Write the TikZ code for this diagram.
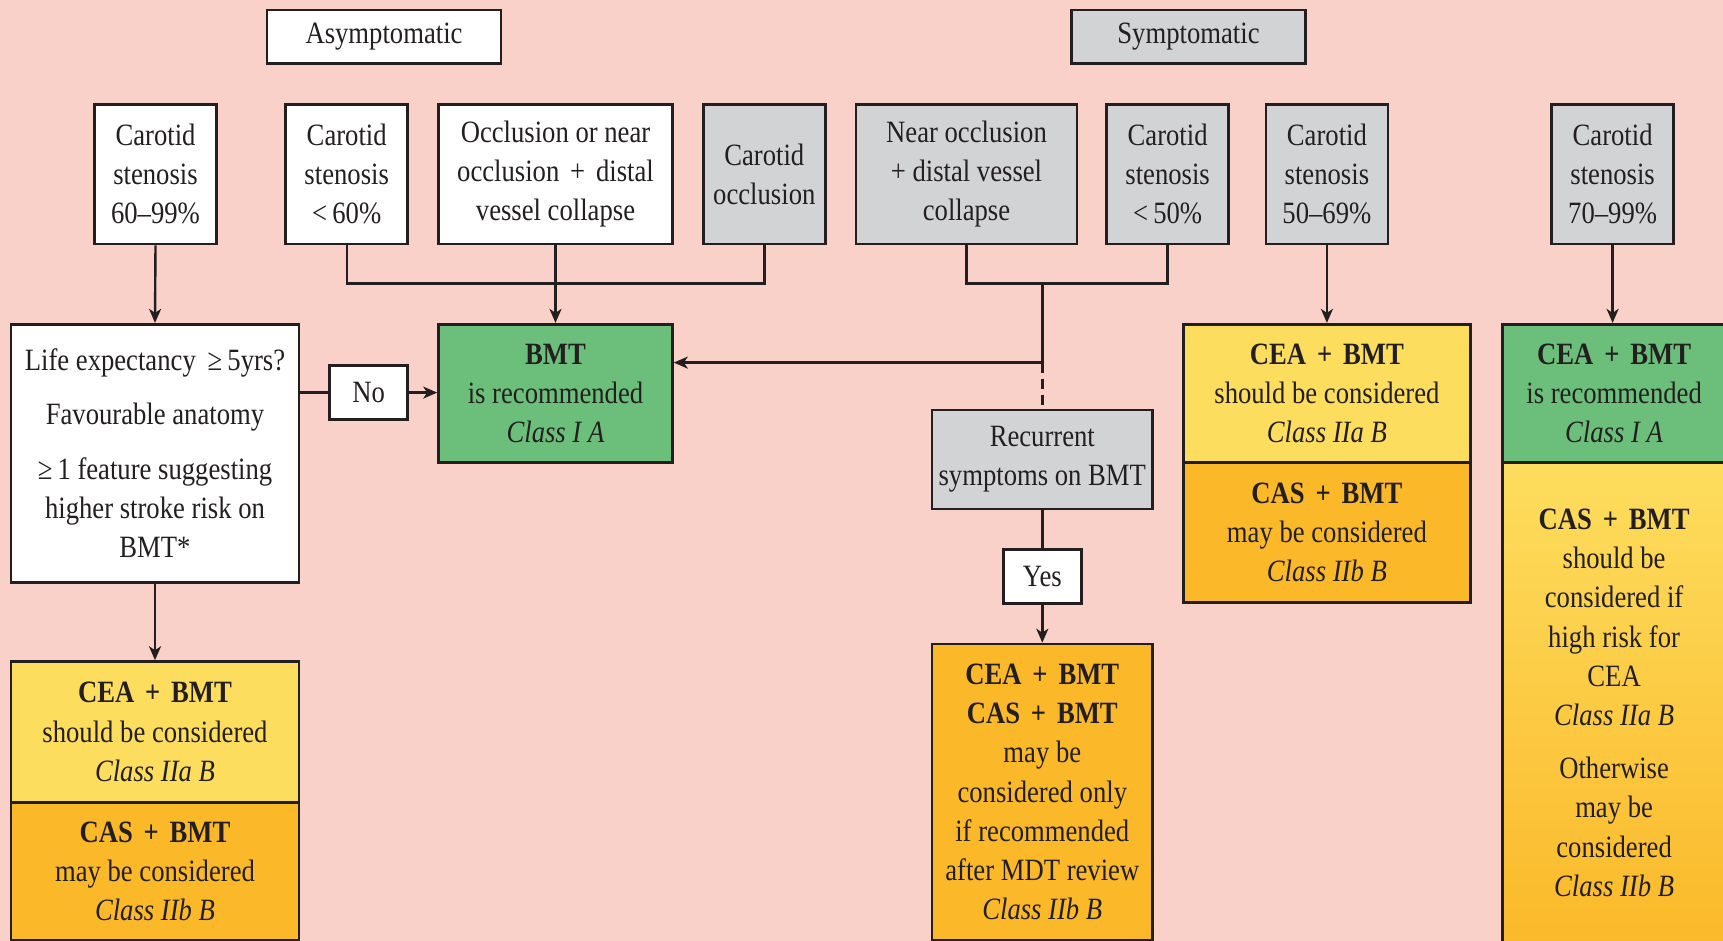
\documentclass[tikz,border=0pt]{standalone}
\usepackage{fontspec}
\setmainfont[FakeStretch=0.86]{Liberation Serif}
\usetikzlibrary{arrows.meta}
\definecolor{bgc}{RGB}{250,209,201}
\definecolor{greenc}{RGB}{108,191,122}
\definecolor{yellowc}{RGB}{253,221,94}
\definecolor{orangec}{RGB}{251,185,42}
\definecolor{grayc}{RGB}{210,211,213}
\definecolor{linec}{RGB}{35,31,32}
\newcommand{\pl}{\hspace{0.35em}+\hspace{0.35em}}
\begin{document}
\begin{tikzpicture}[x=0.5pt,y=-0.5pt,
  box/.style={draw=linec, line width=1.3pt, inner sep=0pt, align=center, text=linec,
    font=\fontsize{15.5}{19.6}\selectfont},
  small/.style={box, minimum width=61pt, minimum height=69.8pt},
  conn/.style={draw=linec, line width=1.2pt},
  arr/.style={conn, -{Stealth[length=7pt,width=6pt,inset=2pt]}}]
\useasboundingbox[fill=bgc] (0,0) rectangle (1723,941);

% headers
\node[box, fill=white, minimum width=117pt, minimum height=26.9pt] (asym) at (384,36.8) {Asymptomatic};
\node[box, fill=grayc, minimum width=117pt, minimum height=26.9pt] (sym) at (1188.5,36.8) {Symptomatic};

% top row
\node[small, fill=white] (c1) at (155.5,174.2) {Carotid\\stenosis\\60–99\%};
\node[small, fill=white] (c2) at (346.7,174.2) {Carotid\\stenosis\\<\,60\%};
\node[box, fill=white, minimum width=117pt, minimum height=69.8pt] (occ) at (555.5,174.2) {Occlusion or near\\occlusion\pl distal\\vessel collapse};
\node[small, fill=grayc] (cocc) at (764.3,174.2) {Carotid\\occlusion};
\node[box, fill=grayc, minimum width=110.5pt, minimum height=69.8pt] (near) at (966.5,174.2) {Near occlusion\\+ distal vessel\\collapse};
\node[small, fill=grayc] (c50) at (1167.6,174.2) {Carotid\\stenosis\\<\,50\%};
\node[small, fill=grayc] (c5069) at (1326.9,174.2) {Carotid\\stenosis\\50–69\%};
\node[small, fill=grayc] (c7099) at (1612.6,174.2) {Carotid\\stenosis\\70–99\%};

% left column
\node[box, fill=white, minimum width=144pt, minimum height=129.1pt] (life) at (155,453.3)
  {Life expectancy \,≥\,5yrs?\\[7.5pt]Favourable anatomy\\[7.5pt]≥\,1 feature suggesting\\higher stroke risk on\\BMT*};
\node[box, fill=white, minimum width=39pt, minimum height=27pt] (no) at (368.7,392.6) {No};
\node[box, fill=greenc, minimum width=117pt, minimum height=69.2pt] (bmt) at (555.5,393.4)
  {\textbf{BMT}\\is recommended\\\textit{Class I A}};
\node[box, fill=yellowc, minimum width=144pt, minimum height=70.35pt] (bly) at (155,731.9)
  {\textbf{CEA\pl BMT}\\should be considered\\\textit{Class IIa B}};
\node[box, fill=orangec, minimum width=144pt, minimum height=68.9pt] (blo) at (155,871.1)
  {\textbf{CAS\pl BMT}\\may be considered\\\textit{Class IIb B}};

% centre column
\node[box, fill=grayc, minimum width=110.4pt, minimum height=49.5pt] (rec) at (1042.3,459.4)
  {Recurrent\\symptoms on BMT};
\node[box, fill=white, minimum width=39pt, minimum height=26.9pt] (yes) at (1042.3,576.4) {Yes};
\node[box, fill=orangec, minimum width=110.4pt, minimum height=148pt] (bot) at (1042.3,792)
  {\textbf{CEA\pl BMT}\\\textbf{CAS\pl BMT}\\may be\\considered only\\if recommended\\after MDT review\\\textit{Class IIb B}};

% right columns
\node[box, fill=yellowc, minimum width=143.4pt, minimum height=69.2pt] (cea2) at (1326.9,393.4)
  {\textbf{CEA\pl BMT}\\should be considered\\\textit{Class IIa B}};
\node[box, fill=orangec, minimum width=143.4pt, minimum height=69.8pt] (cas2) at (1326.9,532.4)
  {\textbf{CAS\pl BMT}\\may be considered\\\textit{Class IIb B}};
\node[box, fill=greenc, minimum width=111.9pt, minimum height=69.2pt] (cea3) at (1614.1,393.4)
  {\textbf{CEA\pl BMT}\\is recommended\\\textit{Class I A}};
\node[box, top color=yellowc, bottom color=orangec, minimum width=111.9pt, minimum height=240.2pt] (cas3) at (1614.1,702.8)
  {\textbf{CAS\pl BMT}\\should be\\considered if\\high risk for\\CEA\\\textit{Class IIa B}\\[7pt]Otherwise\\may be\\considered\\\textit{Class IIb B}};

% junction coordinates
\coordinate (j1) at (764.3,283.5);
\coordinate (j2) at (1167.6,283.5);
\coordinate (jn) at (1042.3,283.5);
\coordinate (jm) at (1042.3,362.6);

% connectors
\draw[arr] (c1.south) -- (life.north);
\draw[conn] (c2.south) |- (j1) -- (cocc.south);
\draw[arr] (occ.south) -- (bmt.north);
\draw[conn] (near.south) |- (j2) -- (c50.south);
\draw[conn] (jn) -- (jm);
\draw[arr] (jm) -- (bmt.east |- jm);
\draw[conn, dash pattern=on 5pt off 3pt] (jm) -- (rec.north);
\draw[conn] (rec.south) -- (yes.north);
\draw[arr] (yes.south) -- (bot.north);
\draw[conn] (life.east |- no.west) -- (no.west);
\draw[arr] (no.east) -- (bmt.west |- no.east);
\draw[arr] (life.south) -- (bly.north);
\draw[arr] (c5069.south) -- (cea2.north);
\draw[arr] (c7099.south) -- (c7099.south |- cea3.north);
\end{tikzpicture}
\end{document}
